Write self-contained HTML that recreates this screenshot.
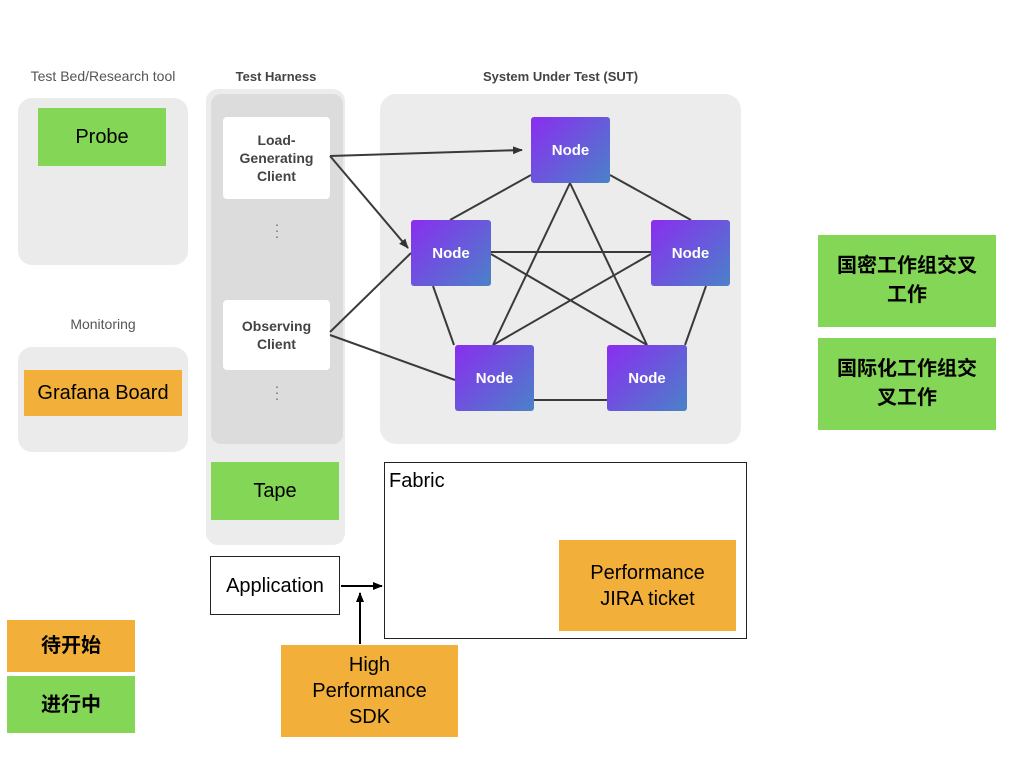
<!DOCTYPE html>
<html><head><meta charset="utf-8"><style>
body{margin:0;width:1024px;height:768px;background:#fff;position:relative;overflow:hidden;font-family:"Liberation Sans","Noto Sans CJK SC",sans-serif}
div{position:absolute;box-sizing:border-box}
.c{display:flex;align-items:center;justify-content:center;text-align:center}
.g{background:#84d656}.o{background:#f2b03b}
.lbl{font-size:14px;color:#555;text-align:center}
.hd{font-size:13px;font-weight:bold;color:#444;text-align:center}
.big{font-size:20px;color:#000;line-height:26px}
.zh{font-weight:bold}
.cl{background:#fff;border-radius:4px;font-size:14px;font-weight:bold;color:#444;line-height:18px}
.node{background:linear-gradient(135deg,#8a2df0,#4a82c8);border-radius:3px;color:#fff;font-weight:bold;font-size:15px}
</style></head><body>
<div class="lbl" style="left:10px;top:68px;width:186px">Test Bed/Research tool</div>
<div style="left:18px;top:98px;width:170px;height:167px;background:#ebebeb;border-radius:14px"></div>
<div class="c g big" style="left:38px;top:108px;width:128px;height:58px">Probe</div>
<div class="lbl" style="left:10px;top:316px;width:186px">Monitoring</div>
<div style="left:18px;top:347px;width:170px;height:105px;background:#ebebeb;border-radius:14px"></div>
<div class="c o big" style="left:24px;top:370px;width:158px;height:46px">Grafana Board</div>

<div class="hd" style="left:206px;top:69px;width:140px">Test Harness</div>
<div style="left:206px;top:89px;width:139px;height:456px;background:#ececec;border-radius:12px"></div>
<div style="left:211px;top:94px;width:132px;height:350px;background:#dcdcdc;border-radius:10px"></div>
<div class="c cl" style="left:223px;top:117px;width:107px;height:82px">Load-<br>Generating<br>Client</div>
<div class="c" style="left:270px;top:218px;width:14px;height:24px;color:#666;font-size:14px;line-height:6px">·<br>·<br>·</div>
<div class="c cl" style="left:223px;top:300px;width:107px;height:70px">Observing<br>Client</div>
<div class="c" style="left:270px;top:380px;width:14px;height:24px;color:#666;font-size:14px;line-height:6px">·<br>·<br>·</div>
<div class="c g big" style="left:211px;top:462px;width:128px;height:58px">Tape</div>

<div class="hd" style="left:380px;top:69px;width:361px">System Under Test (SUT)</div>
<div style="left:380px;top:94px;width:361px;height:350px;background:#ececec;border-radius:16px"></div>

<svg style="position:absolute;left:0;top:0" width="1024" height="768">
<defs><marker id="a" markerWidth="10" markerHeight="8" refX="9" refY="4" orient="auto" markerUnits="userSpaceOnUse"><path d="M0,0L10,4L0,8z" fill="#333"/></marker>
<marker id="b" markerWidth="10" markerHeight="8" refX="9" refY="4" orient="auto" markerUnits="userSpaceOnUse"><path d="M0,0L10,4L0,8z" fill="#000"/></marker></defs>
<g stroke="#3a3a3a" stroke-width="2" fill="none">
<line x1="330" y1="156" x2="522" y2="150" marker-end="url(#a)"/>
<line x1="330" y1="156" x2="408" y2="248" marker-end="url(#a)"/>
<line x1="330" y1="332" x2="411" y2="253"/>
<line x1="330" y1="335" x2="455" y2="380"/>
<line x1="531" y1="175" x2="450" y2="220"/>
<line x1="610" y1="175" x2="691" y2="220"/>
<line x1="570" y1="183" x2="493" y2="345"/>
<line x1="570" y1="183" x2="647" y2="345"/>
<line x1="491" y1="252" x2="651" y2="252"/>
<line x1="491" y1="254" x2="647" y2="345"/>
<line x1="651" y1="254" x2="493" y2="345"/>
<line x1="433" y1="286" x2="454" y2="345"/>
<line x1="706" y1="286" x2="685" y2="345"/>
<line x1="534" y1="400" x2="607" y2="400"/>
</g>
<g stroke="#000" stroke-width="2">
<line x1="341" y1="586" x2="382" y2="586" marker-end="url(#b)"/>
<line x1="360" y1="644" x2="360" y2="593" marker-end="url(#b)"/>
</g>
</svg>

<div class="c node" style="left:531px;top:117px;width:79px;height:66px">Node</div>
<div class="c node" style="left:411px;top:220px;width:80px;height:66px">Node</div>
<div class="c node" style="left:651px;top:220px;width:79px;height:66px">Node</div>
<div class="c node" style="left:455px;top:345px;width:79px;height:66px">Node</div>
<div class="c node" style="left:607px;top:345px;width:80px;height:66px">Node</div>

<div style="left:384px;top:462px;width:363px;height:177px;border:1px solid #222;background:#fff"></div>
<div class="big" style="left:389px;top:468px">Fabric</div>
<div class="c o big" style="left:559px;top:540px;width:177px;height:91px">Performance<br>JIRA ticket</div>
<div class="c big" style="left:210px;top:556px;width:130px;height:59px;border:1px solid #222;background:#fff">Application</div>
<div class="c o big" style="left:281px;top:645px;width:177px;height:92px">High<br>Performance<br>SDK</div>

<div class="c o big zh" style="left:7px;top:620px;width:128px;height:52px">待开始</div>
<div class="c g big zh" style="left:7px;top:676px;width:128px;height:57px">进行中</div>
<div class="c g big zh" style="left:818px;top:235px;width:178px;height:92px;padding:0 8px;line-height:29px">国密工作组交叉<br>工作</div>
<div class="c g big zh" style="left:818px;top:338px;width:178px;height:92px;padding:0 8px;line-height:29px">国际化工作组交<br>叉工作</div>
</body></html>
